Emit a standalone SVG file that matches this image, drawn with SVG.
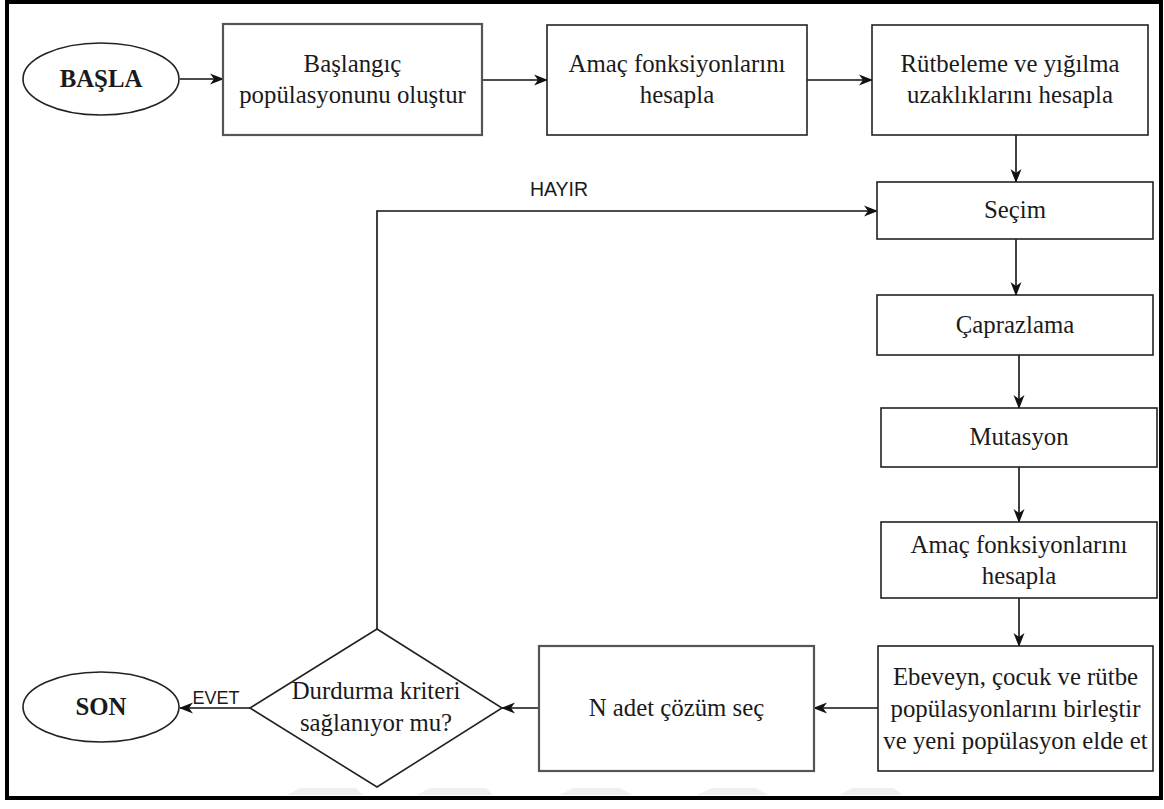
<svg xmlns="http://www.w3.org/2000/svg" width="1164" height="809" viewBox="0 0 1164 809">
  <defs>
    <marker id="arrow" markerUnits="userSpaceOnUse" markerWidth="14" markerHeight="14" viewBox="0 0 14 14" refX="13" refY="7" orient="auto">
      <path d="M0,1.5 L14,7 L0,12.5 L4,7 Z" fill="#111"/>
    </marker>
    <style>
      .frame { fill: #fff; stroke: #000; stroke-width: 4; }
      .box { fill: #fff; stroke: #222; stroke-width: 1.6; }
      .box-soft { fill: #fff; stroke: #555; stroke-width: 2.2; }
      .edge { fill: none; stroke: #111; stroke-width: 1.6; }
      .lbl { font-family: "Liberation Serif", "Times New Roman", serif; font-size: 24.8px; fill: #1a1a1a; text-anchor: middle; }
      .bold { font-weight: bold; }
      .tag { font-family: "Liberation Sans", Arial, sans-serif; font-size: 18px; fill: #1a1a1a; text-anchor: middle; }
      .mark { fill: #efefef; }
    </style>
  </defs>

  <!-- outer frame -->
  <rect class="frame" x="7" y="2" width="1154" height="796"/>

  <!-- faint background marks along the lower edge -->
  <g id="bg-marks">
    <polygon class="mark" points="287,795 300,788 356,788 363,795"/>
    <polygon class="mark" points="417,795 430,788 486,788 493,795"/>
    <polygon class="mark" points="560,795 573,788 620,788 632,795"/>
    <polygon class="mark" points="697,795 712,788 756,788 768,795"/>
    <polygon class="mark" points="840,795 852,788 893,788 903,795"/>
  </g>

  <!-- connectors -->
  <g id="connectors">
    <line class="edge" x1="180" y1="79" x2="223" y2="79" marker-end="url(#arrow)"/>
    <line class="edge" x1="482" y1="80" x2="547" y2="80" marker-end="url(#arrow)"/>
    <line class="edge" x1="807" y1="80" x2="872" y2="80" marker-end="url(#arrow)"/>
    <line class="edge" x1="1016" y1="135" x2="1016" y2="182" marker-end="url(#arrow)"/>
    <line class="edge" x1="1016" y1="239" x2="1016" y2="295" marker-end="url(#arrow)"/>
    <line class="edge" x1="1019" y1="355" x2="1019" y2="408" marker-end="url(#arrow)"/>
    <line class="edge" x1="1019" y1="467" x2="1019" y2="522" marker-end="url(#arrow)"/>
    <line class="edge" x1="1019" y1="598" x2="1019" y2="646" marker-end="url(#arrow)"/>
    <line class="edge" x1="878" y1="708" x2="814" y2="708" marker-end="url(#arrow)"/>
    <line class="edge" x1="539" y1="708" x2="502" y2="708" marker-end="url(#arrow)"/>
    <line class="edge" x1="250" y1="708" x2="180" y2="708" marker-end="url(#arrow)"/>
    <text class="tag" x="216" y="704">EVET</text>
    <polyline class="edge" points="377,629 377,211 877,211" marker-end="url(#arrow)"/>
    <text class="tag" x="559" y="196" style="font-size:19.5px">HAYIR</text>
  </g>

  <!-- nodes -->
  <g id="start">
    <ellipse class="box" cx="101" cy="79" rx="78" ry="36"/>
    <text class="lbl bold" x="101" y="87">BAŞLA</text>
  </g>

  <g id="init-population">
    <rect class="box-soft" x="223" y="24" width="259" height="111"/>
    <text class="lbl" x="352.5" y="72">Başlangıç</text>
    <text class="lbl" x="352.5" y="103">popülasyonunu oluştur</text>
  </g>

  <g id="objectives-1">
    <rect class="box" x="547" y="25" width="260" height="110"/>
    <text class="lbl" x="677" y="72">Amaç fonksiyonlarını</text>
    <text class="lbl" x="677" y="103">hesapla</text>
  </g>

  <g id="ranking">
    <rect class="box" x="872" y="25" width="276" height="110"/>
    <text class="lbl" x="1010" y="72">Rütbeleme ve yığılma</text>
    <text class="lbl" x="1010" y="103">uzaklıklarını hesapla</text>
  </g>

  <g id="selection">
    <rect class="box" x="877" y="182" width="276" height="57"/>
    <text class="lbl" x="1015" y="218">Seçim</text>
  </g>

  <g id="crossover">
    <rect class="box" x="877" y="295" width="276" height="60"/>
    <text class="lbl" x="1015" y="333">Çaprazlama</text>
  </g>

  <g id="mutation">
    <rect class="box" x="881" y="408" width="276" height="59"/>
    <text class="lbl" x="1019" y="445">Mutasyon</text>
  </g>

  <g id="objectives-2">
    <rect class="box" x="881" y="522" width="276" height="76"/>
    <text class="lbl" x="1019" y="553">Amaç fonksiyonlarını</text>
    <text class="lbl" x="1019" y="584">hesapla</text>
  </g>

  <g id="merge">
    <rect class="box" x="878" y="646" width="275" height="125"/>
    <text class="lbl" x="1015.5" y="685">Ebeveyn, çocuk ve rütbe</text>
    <text class="lbl" x="1015.5" y="717">popülasyonlarını birleştir</text>
    <text class="lbl" x="1015.5" y="749">ve yeni popülasyon elde et</text>
  </g>

  <g id="pick-n">
    <rect class="box-soft" x="539" y="646" width="275" height="125"/>
    <text class="lbl" x="676.5" y="716">N adet çözüm seç</text>
  </g>

  <g id="stop-check">
    <polygon class="box" points="377,629 502,708 377,787 250,708"/>
    <text class="lbl" x="376" y="699">Durdurma kriteri</text>
    <text class="lbl" x="376" y="731">sağlanıyor mu?</text>
  </g>

  <g id="end">
    <ellipse class="box" cx="101" cy="707" rx="78" ry="35"/>
    <text class="lbl bold" x="101" y="715">SON</text>
  </g>
</svg>
